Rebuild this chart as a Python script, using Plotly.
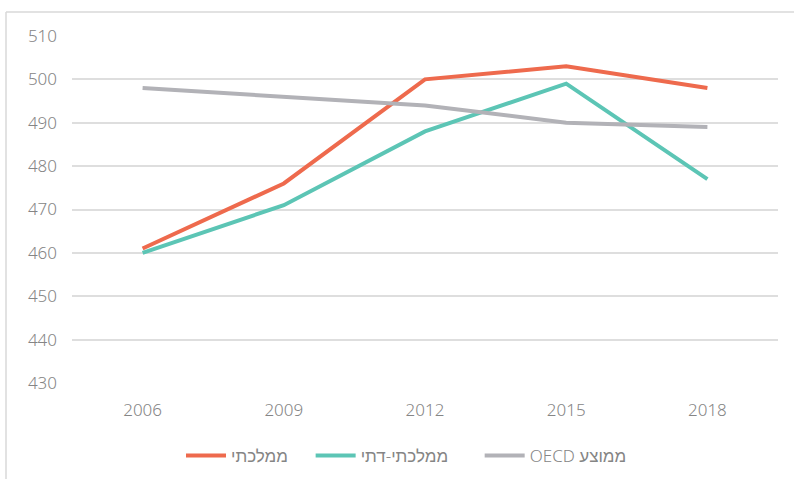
import plotly.graph_objects as go

years = ["2006", "2009", "2012", "2015", "2018"]
mamlachti = [461, 476, 500, 503, 498]
mamlachti_dati = [460, 471, 488, 499, 477]
oecd_avg = [498, 496, 494, 490, 489]

names = ["ממלכתי", "ממלכתי-דתי", "OECD ממוצע"]
colors = ["#EE6A4D", "#5CC5B5", "#B2B2B7"]

pads = ["\u00a0" * 4, "\u00a0" * 6, ""]

fig = go.Figure()
for name, vals, col, pad in zip(names, [mamlachti, mamlachti_dati, oecd_avg], colors, pads):
    fig.add_trace(go.Scatter(
        x=years, y=vals, name=name + pad, mode="lines",
        line=dict(color=col, width=4),
    ))

W, H = 794, 479
L, R, T, B = 72, 16, 36, 96
pw, ph = W - L - R, H - T - B

def px_x(x):
    return (x - L) / pw

def px_y(y):
    return (H - B - y) / ph

fig.add_shape(type="line", xref="paper", yref="paper",
              x0=px_x(6), x1=px_x(800), y0=px_y(12), y1=px_y(12),
              line=dict(color="#d9d9d9", width=1.5))
fig.add_shape(type="line", xref="paper", yref="paper",
              x0=px_x(6), x1=px_x(6), y0=px_y(12), y1=px_y(485),
              line=dict(color="#d9d9d9", width=1.5))

fig.update_layout(
    width=W, height=H,
    margin=dict(l=L, r=R, t=T, b=B, autoexpand=False),
    paper_bgcolor="white", plot_bgcolor="white",
    font=dict(family="Noto Sans, DejaVu Sans, sans-serif", size=14, color="#858585", weight=300),
    showlegend=True,
    legend=dict(orientation="h", x=px_x(181), xanchor="left", y=px_y(456), yanchor="middle",
                font=dict(size=17, color="#858585"), itemwidth=40, traceorder="normal"),
    xaxis=dict(type="category", range=[-0.5, 4.5], showgrid=False, zeroline=False,
               showline=False, ticks="", ticklabelstandoff=15, automargin=False,
               tickfont=dict(size=17)),
    yaxis=dict(range=[430, 510], dtick=10, tick0=430, showgrid=True, gridcolor="#dedede",
               gridwidth=1.5, zeroline=False, showline=False, ticks="", automargin=False,
               ticklabelstandoff=14, tickfont=dict(size=17)),
)

fig.write_html("out.html", config={"displayModeBar": False},
               post_script="document.body.style.margin='0px';document.body.style.overflow='hidden';")
